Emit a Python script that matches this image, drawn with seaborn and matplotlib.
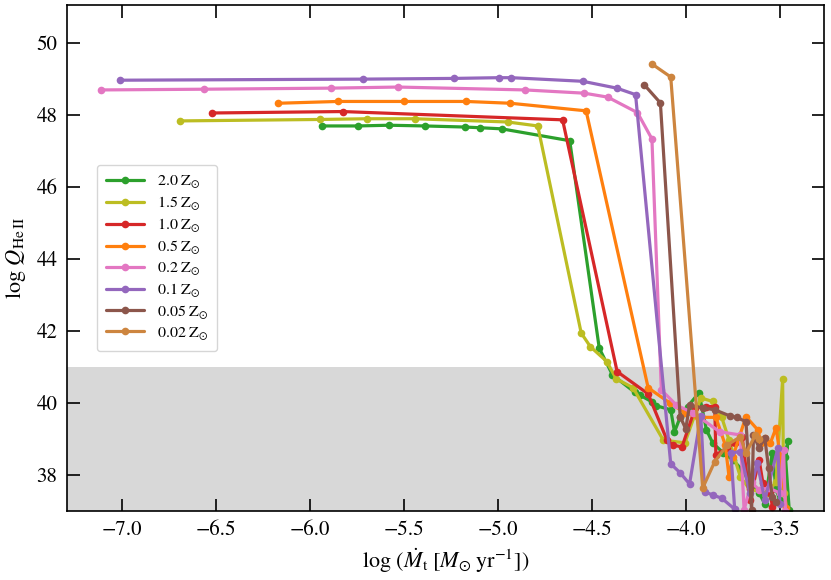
import matplotlib
matplotlib.use("Agg")
import matplotlib.pyplot as plt
import seaborn as sns
import pandas as pd

# ---------------- data ----------------
labels = [r"2.0$\;\mathrm{Z}_{\odot}$", r"1.5$\;\mathrm{Z}_{\odot}$", r"1.0$\;\mathrm{Z}_{\odot}$",
          r"0.5$\;\mathrm{Z}_{\odot}$", r"0.2$\;\mathrm{Z}_{\odot}$", r"0.1$\;\mathrm{Z}_{\odot}$",
          r"0.05$\;\mathrm{Z}_{\odot}$", r"0.02$\;\mathrm{Z}_{\odot}$"]
colors = ["#2ca02c", "#bcbd22", "#d62728", "#ff7f0e", "#e377c2", "#9467bd", "#8c564b", "#cd853f"]

x_z20 = [-5.936, -5.745, -5.577, -5.388, -5.176, -5.092, -4.979, -4.617, -4.46, -4.39, -4.27,
         -4.245, -4.18, -4.156, -4.08, -4.06, -4.03, -3.99, -3.93, -3.89, -3.857, -3.80, -3.75,
         -3.70, -3.66, -3.61, -3.58, -3.54, -3.52, -3.50, -3.457, -3.47, -3.45]
y_z20 = [47.69, 47.69, 47.71, 47.69, 47.66, 47.64, 47.61, 47.28, 41.52, 40.78, 40.29, 40.22,
         40.03, 39.92, 39.81, 39.2, 39.6, 39.9, 40.28, 39.25, 38.89, 38.61, 38.42, 38.14, 37.8,
         37.5, 37.2, 38.61, 37.6, 37.3, 38.93, 38.5, 37.03]

x_z15 = [-6.69, -5.947, -5.697, -5.441, -4.947, -4.787, -4.556, -4.507, -4.42, -4.37, -4.28,
         -4.12, -4.005, -3.92, -3.857, -3.81, -3.77, -3.71, -3.66, -3.57, -3.52, -3.485, -3.48]
y_z15 = [47.83, 47.87, 47.89, 47.89, 47.80, 47.69, 41.94, 41.56, 41.15, 40.67, 40.42, 38.97,
         38.89, 40.14, 40.04, 39.62, 38.97, 37.95, 37.6, 37.5, 37.8, 40.66, 37.5]

x_z10 = [-6.52, -5.824, -4.655, -4.365, -4.20, -4.10, -4.07, -4.02, -3.95, -3.89, -3.846,
         -3.84, -3.78, -3.74, -3.70, -3.66, -3.61, -3.59, -3.55, -3.54]
y_z10 = [48.05, 48.09, 47.86, 40.87, 40.25, 38.97, 38.83, 38.78, 39.86, 39.9, 39.9, 38.56,
         38.75, 38.89, 39.06, 37.3, 38.42, 37.78, 37.5, 37.12]

x_z05 = [-6.167, -5.85, -5.497, -5.168, -4.932, -4.53, -4.20, -4.085, -4.005, -3.935, -3.84,
         -3.79, -3.77, -3.75, -3.68, -3.617, -3.60, -3.58, -3.55, -3.52, -3.50, -3.465]
y_z05 = [48.32, 48.37, 48.37, 48.37, 48.32, 48.11, 40.42, 40.0, 39.73, 39.6, 39.6, 38.83,
         37.95, 38.5, 39.62, 39.25, 38.9, 39.03, 38.89, 39.31, 38.6, 37.08]

x_z02 = [-7.11, -6.56, -5.886, -5.529, -4.854, -4.54, -4.415, -4.257, -4.18, -4.13, -4.05,
         -3.96, -3.82, -3.71, -3.69, -3.65, -3.61, -3.56, -3.50, -3.48, -3.47]
y_z02 = [48.69, 48.71, 48.74, 48.77, 48.69, 48.60, 48.49, 48.06, 47.33, 40.36, 39.94, 39.72,
         39.2, 39.11, 37.03, 37.8, 37.58, 37.64, 37.5, 38.69, 37.0]

x_z01 = [-7.007, -5.715, -5.231, -4.995, -4.927, -4.548, -4.367, -4.267, -4.08, -4.03, -3.98,
         -3.92, -3.90, -3.857, -3.81, -3.74, -3.76, -3.71, -3.66, -3.62, -3.58, -3.51, -3.50]
y_z01 = [48.96, 48.99, 49.01, 49.03, 49.03, 48.93, 48.74, 48.56, 38.31, 38.06, 37.75, 39.64,
         37.54, 37.44, 37.36, 37.05, 38.61, 38.65, 37.5, 38.34, 37.3, 38.75, 37.2]

x_z005 = [-4.222, -4.135, -4.03, -4.0, -3.98, -3.91, -3.846, -3.766, -3.73, -3.68, -3.65,
          -3.64, -3.61, -3.58, -3.56, -3.54, -3.52]
y_z005 = [48.84, 48.33, 39.62, 39.28, 39.94, 39.86, 39.81, 39.64, 39.6, 39.48, 37.03, 39.11,
          38.75, 39.03, 38.2, 37.39, 37.26]

x_z002 = [-4.177, -4.08, -3.91, -3.846, -3.78, -3.71, -3.68, -3.63, -3.61]
y_z002 = [49.40, 49.05, 37.64, 38.37, 38.83, 39.06, 38.6, 39.11, 39.0]

xs = [x_z20, x_z15, x_z10, x_z05, x_z02, x_z01, x_z005, x_z002]
ys = [y_z20, y_z15, y_z10, y_z05, y_z02, y_z01, y_z005, y_z002]

xticks = [-7.0, -6.5, -6.0, -5.5, -5.0, -4.5, -4.0, -3.5]
yticks = [38, 40, 42, 44, 46, 48, 50]

# ---------------- style ----------------
sns.set_style("ticks")
plt.rcParams["font.family"] = ["STIXGeneral", "DejaVu Serif"]
plt.rcParams["mathtext.fontset"] = "stix"
for k in ["text.color", "axes.labelcolor", "xtick.color", "ytick.color", "axes.edgecolor"]:
    plt.rcParams[k] = "black"

fig = plt.figure(figsize=(8.31, 5.80), dpi=100)
ax = fig.add_axes([0.0806, 0.119, 0.911, 0.8725])

ax.axhspan(37, 41, color="#d8d8d8", zorder=0, lw=0)

for lab, col, xv, yv in zip(labels, colors, xs, ys):
    df = pd.DataFrame({"x": xv, "y": yv})
    sns.lineplot(data=df, x="x", y="y", sort=False, estimator=None, ax=ax,
                 color=col, label=lab, marker="o", markersize=5.5,
                 markeredgewidth=0, linewidth=2.3)

ax.set_xlim(-7.29, -3.265)
ax.set_ylim(37.0, 51.05)
ax.set_xticks(xticks)
ax.set_xticklabels([f"{t:.1f}".replace("-", "\u2212") for t in xticks])
ax.set_yticks(yticks)
ax.set_yticklabels([str(t) for t in yticks])

ax.tick_params(direction="in", top=True, right=True, length=9, width=1.2,
               labelsize=15, pad=7, colors="black")
for sp in ax.spines.values():
    sp.set_linewidth(1.2)
    sp.set_color("black")

ax.set_xlabel(r"log $(\dot{M}_{\rm t}\;[M_{\odot}\;{\rm yr}^{-1}])$", fontsize=16, labelpad=4)
ax.set_ylabel(r"log $Q_{\rm He\,II}$", fontsize=16, labelpad=6)

leg = ax.legend(loc="center left", bbox_to_anchor=(0.04, 0.5), borderaxespad=0,
                fontsize=11.5, handlelength=2.4, handletextpad=0.8,
                labelspacing=0.28, borderpad=0.55, frameon=True)
leg.get_frame().set_edgecolor("#cccccc")

fig.savefig("out.png", dpi=100)
